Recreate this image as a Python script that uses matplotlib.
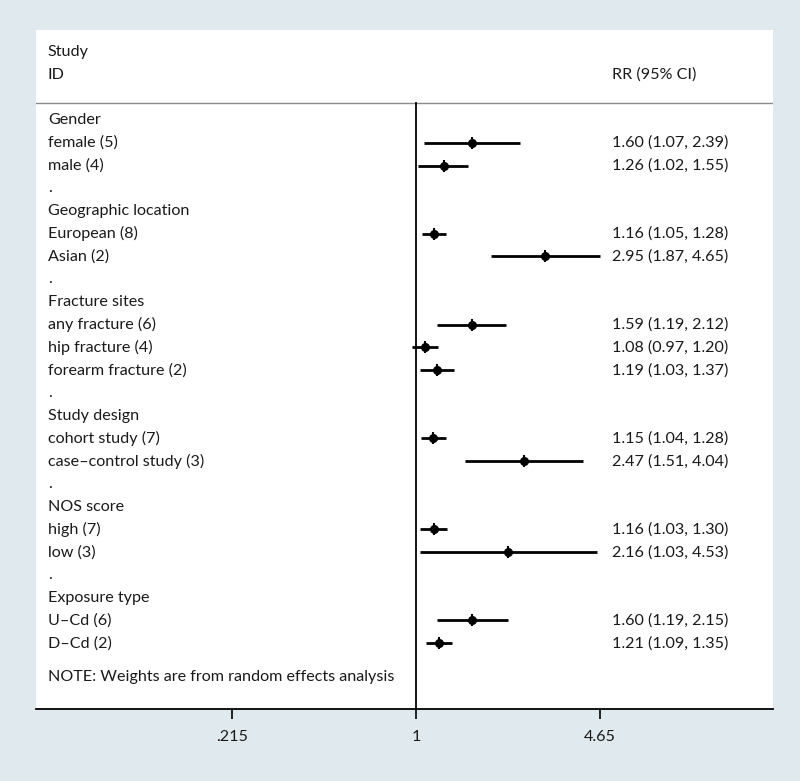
import numpy as np
import matplotlib.pyplot as plt

plt.rcParams['font.family'] = ['Lato', 'DejaVu Sans']

# groups and studies, in display order
labels = ['Gender', 'female (5)', 'male (4)', '.',
          'Geographic location', 'European (8)', 'Asian (2)', '.',
          'Fracture sites', 'any fracture (6)', 'hip fracture (4)', 'forearm fracture (2)', '.',
          'Study design', 'cohort study (7)', 'case\u2013control study (3)', '.',
          'NOS score', 'high (7)', 'low (3)', '.',
          'Exposure type', 'U\u2013Cd (6)', 'D\u2013Cd (2)']
rr = [None, 1.60, 1.26, None,
      None, 1.16, 2.95, None,
      None, 1.59, 1.08, 1.19, None,
      None, 1.15, 2.47, None,
      None, 1.16, 2.16, None,
      None, 1.60, 1.21]
lo = [None, 1.07, 1.02, None,
      None, 1.05, 1.87, None,
      None, 1.19, 0.97, 1.03, None,
      None, 1.04, 1.51, None,
      None, 1.03, 1.03, None,
      None, 1.19, 1.09]
hi = [None, 2.39, 1.55, None,
      None, 1.28, 4.65, None,
      None, 2.12, 1.20, 1.37, None,
      None, 1.28, 4.04, None,
      None, 1.30, 4.53, None,
      None, 2.15, 1.35]
xticks = [0.215, 1, 4.65]
xtick_labels = ['.215', '1', '4.65']

bg = '#e0e9ee'
fig = plt.figure(figsize=(8, 7.81), dpi=100, facecolor=bg)
ax = fig.add_axes([36/800, 72/781, 737/800, 679/781])
ax.set_facecolor('white')
ax.set_xscale('log')
ax.set_xlim(np.exp(-380/119.7), np.exp(357/119.7))
ax.set_ylim(25.9, -3.96)

tr = ax.get_yaxis_transform()  # x in axes fraction, y in data
fs = 11.6
tc = '#1a1a1a'

ax.text(0.016, -3, 'Study', transform=tr, fontsize=fs, va='center', color=tc)
ax.text(0.016, -2, 'ID', transform=tr, fontsize=fs, va='center', color=tc)
ax.text(0.782, -2, 'RR (95% CI)', transform=tr, fontsize=fs, va='center', color=tc)
ax.axhline(-0.75, color='#8a8a8a', lw=1)

for i, lab in enumerate(labels):
    ax.text(0.016, i, lab, transform=tr, fontsize=fs, va='center', color=tc)
    if rr[i] is not None:
        ax.plot([lo[i], hi[i]], [i, i], color='black', lw=2, solid_capstyle='butt')
        ax.plot(rr[i], i, marker='o', color='black', markersize=5.5)
        ax.plot(rr[i], i, marker='|', color='black', markersize=8, mew=1.5)
        ax.text(0.782, i, '%.2f (%.2f, %.2f)' % (rr[i], lo[i], hi[i]),
                transform=tr, fontsize=fs, va='center', color=tc)

ax.text(0.016, 24.5, 'NOTE: Weights are from random effects analysis',
        transform=tr, fontsize=fs, va='center', color=tc)

# null line
ax.plot([1, 1], [-0.75, 25.9], color='black', lw=1.3)

for s in ['top', 'left', 'right']:
    ax.spines[s].set_visible(False)
ax.spines['bottom'].set_linewidth(1.3)
ax.set_yticks([])
ax.minorticks_off()
ax.set_xticks(xticks)
ax.set_xticklabels(xtick_labels, fontsize=fs, color=tc)
ax.tick_params(axis='x', length=7, width=1.2, pad=8)

fig.savefig('out.png', dpi=100, facecolor=bg)
